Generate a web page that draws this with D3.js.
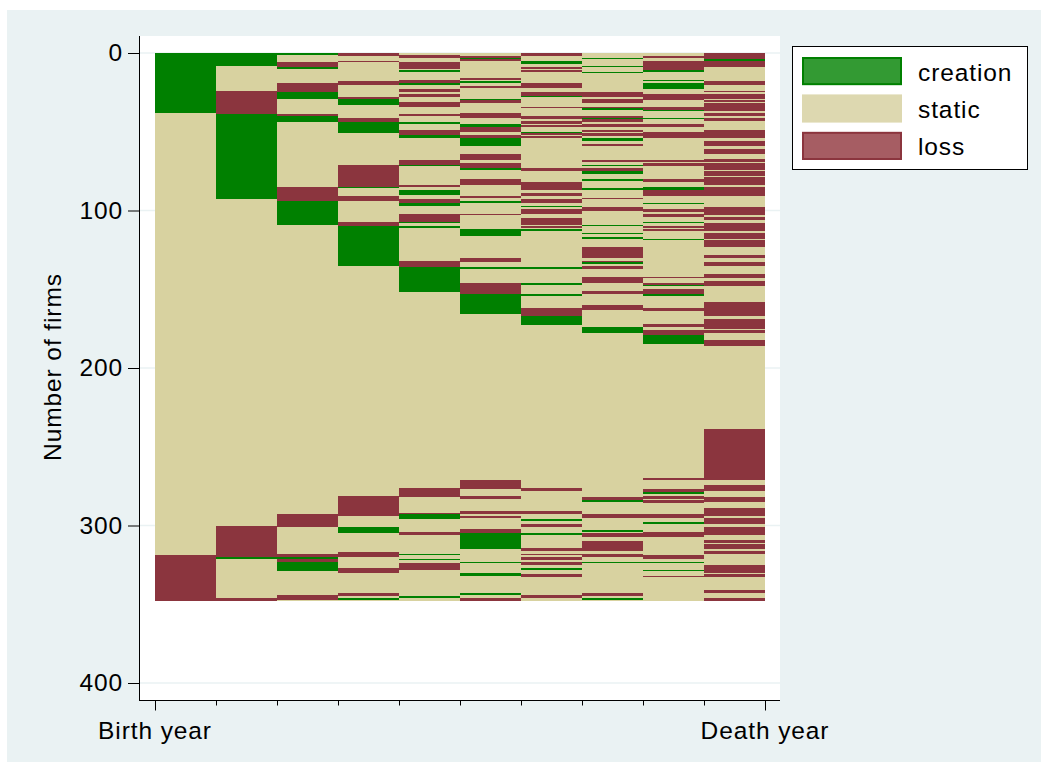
<!DOCTYPE html>
<html>
<head>
<meta charset="utf-8">
<script src="https://cdn.jsdelivr.net/npm/d3@7/dist/d3.min.js"></script>
<style>
  html, body { margin: 0; padding: 0; background: #ffffff; }
  svg { display: block; }
  text { font-family: "Liberation Sans", Arial, Helvetica, sans-serif; fill: #000; letter-spacing: 0.9px; }
</style>
</head>
<body>
<svg id="chart" width="1049" height="770"></svg>
<script>
// Sequence index plot: one row per firm, one column per year from birth to death.
// Each column is a list of [first firm index, state] change points; a run lasts
// until the next change point (or the total number of firms).
const nFirms = 348;
const states = ["creation", "static", "loss"];
const stateCode = { c: "creation", s: "static", l: "loss" };
const yTicks = [0, 100, 200, 300, 400];
const xLabels = ["Birth year", "Death year"];

const year1 = [[0,"c"],[38,"s"],[319,"l"]];
const year2 = [[0,"c"],[8,"s"],[24,"l"],[39,"c"],[93,"s"],[300,"l"],[320,"c"],[321,"s"],[346,"l"]];
const year3 = [[0,"c"],[1,"s"],[6,"l"],[9,"c"],[10,"s"],[19,"l"],[25,"c"],[29,"s"],[39,"l"],[40,"c"],[44,"s"],[85,"l"],[94,"c"],[109,"s"],[293,"l"],[301,"s"],[318,"l"],[320,"c"],[321,"l"],[323,"c"],[329,"s"],[344,"l"],[347,"s"]];
const year4 = [[0,"l"],[2,"s"],[5,"l"],[6,"s"],[18,"l"],[20,"s"],[28,"l"],[29,"c"],[33,"s"],[41,"l"],[44,"c"],[51,"s"],[71,"l"],[85,"c"],[86,"s"],[91,"l"],[94,"s"],[107,"l"],[110,"c"],[135,"s"],[281,"l"],[294,"s"],[301,"c"],[305,"s"],[317,"l"],[320,"s"],[327,"l"],[330,"s"],[343,"l"],[345,"s"],[346,"c"],[347,"s"]];
const year5 = [[0,"s"],[1,"l"],[3,"s"],[6,"l"],[10,"s"],[11,"c"],[12,"s"],[17,"l"],[19,"c"],[20,"s"],[23,"l"],[25,"s"],[26,"l"],[28,"s"],[31,"l"],[34,"s"],[39,"l"],[40,"s"],[44,"c"],[45,"s"],[49,"l"],[52,"c"],[54,"s"],[68,"l"],[71,"c"],[72,"s"],[84,"l"],[85,"s"],[87,"c"],[90,"s"],[93,"l"],[95,"c"],[97,"s"],[102,"l"],[107,"c"],[108,"s"],[110,"c"],[111,"s"],[132,"l"],[136,"c"],[152,"s"],[276,"l"],[282,"s"],[292,"l"],[293,"c"],[296,"s"],[304,"l"],[306,"s"],[318,"c"],[319,"s"],[321,"c"],[322,"s"],[324,"l"],[328,"s"],[345,"c"],[346,"s"]];
const year6 = [[0,"s"],[2,"l"],[3,"c"],[4,"l"],[5,"s"],[16,"l"],[17,"s"],[18,"c"],[19,"s"],[21,"l"],[22,"s"],[29,"c"],[30,"l"],[32,"s"],[38,"l"],[41,"s"],[45,"c"],[47,"l"],[50,"s"],[52,"l"],[54,"c"],[59,"s"],[64,"l"],[68,"s"],[70,"l"],[73,"c"],[74,"s"],[80,"l"],[84,"s"],[91,"l"],[92,"s"],[94,"c"],[95,"s"],[102,"l"],[103,"s"],[112,"c"],[116,"s"],[130,"l"],[133,"s"],[136,"c"],[137,"s"],[146,"l"],[153,"c"],[166,"s"],[271,"l"],[277,"s"],[281,"l"],[283,"s"],[291,"l"],[293,"s"],[294,"l"],[295,"s"],[302,"l"],[305,"c"],[315,"s"],[323,"c"],[324,"s"],[330,"c"],[332,"s"],[343,"c"],[344,"s"],[346,"l"]];
const year7 = [[0,"l"],[2,"s"],[5,"c"],[7,"s"],[9,"l"],[10,"s"],[11,"l"],[12,"s"],[19,"l"],[22,"s"],[25,"l"],[27,"c"],[28,"s"],[34,"l"],[35,"s"],[40,"l"],[42,"s"],[43,"l"],[45,"s"],[46,"l"],[47,"s"],[50,"c"],[51,"l"],[52,"s"],[53,"l"],[54,"s"],[73,"l"],[75,"s"],[82,"l"],[87,"s"],[89,"l"],[91,"s"],[93,"l"],[95,"s"],[97,"c"],[98,"s"],[99,"l"],[102,"s"],[105,"l"],[109,"s"],[110,"l"],[111,"s"],[112,"c"],[113,"s"],[136,"c"],[137,"s"],[146,"c"],[147,"s"],[153,"c"],[154,"s"],[162,"l"],[167,"c"],[173,"s"],[276,"l"],[278,"s"],[291,"l"],[293,"s"],[296,"c"],[297,"s"],[299,"l"],[301,"s"],[305,"c"],[306,"s"],[314,"l"],[316,"s"],[318,"l"],[319,"s"],[320,"l"],[322,"s"],[323,"l"],[325,"s"],[327,"c"],[328,"s"],[331,"l"],[333,"s"],[344,"l"],[346,"s"]];
const year8 = [[0,"s"],[3,"c"],[4,"s"],[8,"c"],[9,"s"],[12,"c"],[13,"s"],[25,"l"],[28,"s"],[29,"l"],[32,"s"],[34,"l"],[35,"c"],[36,"s"],[40,"l"],[41,"c"],[42,"l"],[44,"s"],[45,"l"],[47,"s"],[49,"l"],[50,"s"],[51,"l"],[53,"s"],[54,"c"],[56,"s"],[58,"l"],[59,"s"],[68,"l"],[69,"s"],[71,"c"],[72,"s"],[73,"l"],[75,"c"],[77,"s"],[80,"c"],[81,"s"],[86,"c"],[87,"s"],[92,"l"],[93,"s"],[98,"l"],[100,"s"],[109,"c"],[110,"s"],[114,"c"],[115,"s"],[117,"c"],[118,"s"],[123,"l"],[130,"s"],[132,"l"],[133,"c"],[134,"s"],[135,"l"],[137,"s"],[142,"l"],[146,"s"],[151,"l"],[153,"s"],[160,"l"],[163,"s"],[174,"c"],[178,"s"],[282,"l"],[284,"c"],[285,"s"],[293,"l"],[295,"s"],[303,"c"],[304,"s"],[305,"l"],[307,"s"],[310,"l"],[316,"s"],[318,"l"],[320,"s"],[323,"c"],[324,"s"],[343,"l"],[345,"s"],[346,"c"],[347,"s"]];
const year9 = [[0,"s"],[2,"l"],[3,"s"],[5,"l"],[11,"c"],[12,"s"],[17,"c"],[18,"s"],[19,"c"],[23,"s"],[26,"l"],[30,"s"],[34,"l"],[36,"c"],[37,"s"],[41,"c"],[42,"s"],[45,"l"],[47,"s"],[50,"l"],[54,"s"],[68,"l"],[69,"s"],[70,"l"],[72,"s"],[80,"l"],[82,"s"],[85,"c"],[87,"l"],[91,"s"],[95,"c"],[96,"s"],[99,"l"],[101,"s"],[102,"l"],[104,"s"],[107,"c"],[108,"s"],[110,"l"],[111,"s"],[112,"l"],[113,"s"],[118,"c"],[119,"s"],[142,"l"],[143,"s"],[146,"l"],[147,"c"],[148,"s"],[150,"l"],[153,"c"],[154,"s"],[162,"l"],[164,"s"],[172,"l"],[174,"s"],[176,"l"],[179,"c"],[185,"s"],[270,"l"],[271,"s"],[277,"l"],[279,"c"],[280,"s"],[281,"l"],[283,"s"],[284,"l"],[286,"s"],[293,"l"],[295,"s"],[298,"c"],[299,"s"],[304,"l"],[307,"s"],[319,"l"],[321,"s"],[323,"c"],[324,"s"],[328,"c"],[329,"s"],[332,"l"],[333,"s"]];
const year10 = [[0,"l"],[4,"c"],[5,"l"],[9,"s"],[18,"l"],[20,"s"],[24,"l"],[25,"s"],[26,"l"],[29,"s"],[30,"l"],[31,"s"],[32,"l"],[37,"s"],[38,"l"],[40,"s"],[41,"l"],[43,"s"],[49,"l"],[54,"s"],[56,"l"],[59,"s"],[61,"l"],[64,"s"],[67,"l"],[69,"s"],[70,"l"],[74,"s"],[75,"l"],[78,"s"],[79,"l"],[84,"s"],[85,"l"],[91,"s"],[98,"l"],[103,"s"],[104,"l"],[106,"s"],[108,"l"],[113,"s"],[114,"l"],[118,"s"],[119,"l"],[123,"s"],[128,"l"],[130,"s"],[133,"l"],[135,"s"],[140,"l"],[143,"s"],[145,"l"],[148,"s"],[158,"l"],[167,"s"],[169,"l"],[175,"s"],[176,"l"],[178,"s"],[182,"l"],[186,"s"],[239,"l"],[271,"s"],[274,"l"],[278,"s"],[282,"l"],[285,"s"],[289,"l"],[294,"s"],[295,"l"],[299,"s"],[301,"l"],[306,"s"],[309,"l"],[311,"s"],[312,"l"],[315,"s"],[316,"l"],[318,"s"],[325,"l"],[328,"s"],[328,"l"],[330,"s"],[331,"l"],[333,"s"],[341,"l"],[343,"s"],[346,"l"]];

const years = [year1, year2, year3, year4, year5, year6, year7, year8, year9, year10];

const fillColor = { creation: "#008000", static: "#d8d2a0", loss: "#8b353e" };
const legendFill = { creation: "#339a33", static: "#ddd8b0", loss: "#a65d63" };
const legendStroke = { creation: "#008000", static: "#ddd8b0", loss: "#8b353e" };

const svg = d3.select("#chart");
const fontSize = 24.5;

// outer graph region
svg.append("rect").attr("x", 7).attr("y", 10).attr("width", 1034).attr("height", 752)
  .attr("fill", "#eaf2f3");

// plot region
const plot = { left: 139, right: 780, top: 36, bottom: 700 };
svg.append("rect").attr("x", plot.left).attr("y", plot.top)
  .attr("width", plot.right - plot.left).attr("height", plot.bottom - plot.top)
  .attr("fill", "#ffffff");

const y = d3.scaleLinear().domain([0, 400]).range([53, 683]);
const x = d3.scaleLinear().domain([0, years.length]).range([155, 765]);

// horizontal grid lines
svg.append("g").selectAll("line").data(yTicks).join("line")
  .attr("x1", plot.left + 1).attr("x2", plot.right)
  .attr("y1", d => y(d)).attr("y2", d => y(d))
  .attr("stroke", "#eaf2f3").attr("stroke-width", 1.5);

// runs of identical states, built from the change points
const runs = [];
years.forEach((col, i) => {
  col.forEach((p, k) => {
    const end = k + 1 < col.length ? col[k + 1][0] : nFirms;
    if (end > p[0]) runs.push({ year: i, start: p[0], end: end, state: stateCode[p[1]] });
  });
});

svg.append("g").attr("shape-rendering", "crispEdges")
  .selectAll("rect").data(runs).join("rect")
  .attr("x", d => x(d.year))
  .attr("width", d => x(d.year + 1) - x(d.year))
  .attr("y", d => y(d.start))
  .attr("height", d => y(d.end) - y(d.start))
  .attr("fill", d => fillColor[d.state]);

// y axis
const yAxis = d3.axisLeft(y).tickValues(yTicks).tickSize(11).tickPadding(5);
const gy = svg.append("g").attr("transform", `translate(${plot.left},0)`).call(yAxis);
gy.select(".domain").remove();
svg.append("line").attr("x1", plot.left + 0.5).attr("x2", plot.left + 0.5)
  .attr("y1", plot.top).attr("y2", plot.bottom).attr("stroke", "#000").attr("stroke-width", 1);
gy.selectAll(".tick line").attr("stroke", "#000");
gy.selectAll(".tick text").attr("font-size", fontSize)
  .attr("font-family", "'Liberation Sans', Arial, sans-serif").attr("fill", "#000");

svg.append("text")
  .attr("transform", `translate(61,${(y(0) + y(400)) / 2 - 1}) rotate(-90)`)
  .attr("text-anchor", "middle").attr("font-size", fontSize)
  .text("Number of firms");

// x axis: ticks at every year boundary, long ones at both ends
const xTickVals = d3.range(0, years.length + 1);
const gx = svg.append("g").attr("transform", `translate(0,${plot.bottom + 0.5})`);
gx.append("line").attr("x1", plot.left).attr("x2", plot.right)
  .attr("stroke", "#000");
gx.selectAll("line.tk").data(xTickVals).join("line").attr("class", "tk")
  .attr("x1", d => x(d) + 0.5).attr("x2", d => x(d) + 0.5)
  .attr("y1", 0).attr("y2", d => (d === 0 || d === years.length) ? 10 : 5)
  .attr("stroke", "#000");
gx.selectAll("text").data([0, years.length]).join("text")
  .attr("x", d => x(d)).attr("y", 38.5)
  .attr("text-anchor", "middle").attr("font-size", fontSize)
  .text((d, i) => xLabels[i]);

// legend
const lg = svg.append("g");
lg.append("rect").attr("x", 792.5).attr("y", 46.5).attr("width", 235).attr("height", 123)
  .attr("fill", "#fff").attr("stroke", "#000").attr("stroke-width", 1);
const ly = d3.scaleBand().domain(states).range([58, 159]).paddingInner(0.3);
lg.selectAll("rect.sw").data(states).join("rect").attr("class", "sw")
  .attr("x", 803).attr("y", d => ly(d)).attr("width", 98).attr("height", ly.bandwidth())
  .attr("fill", d => legendFill[d]).attr("stroke", d => legendStroke[d]).attr("stroke-width", 2);
lg.selectAll("text").data(states).join("text")
  .attr("x", 918).attr("y", d => ly(d) + ly.bandwidth() / 2 + 9.5)
  .attr("font-size", fontSize).text(d => d);
</script>
</body>
</html>
